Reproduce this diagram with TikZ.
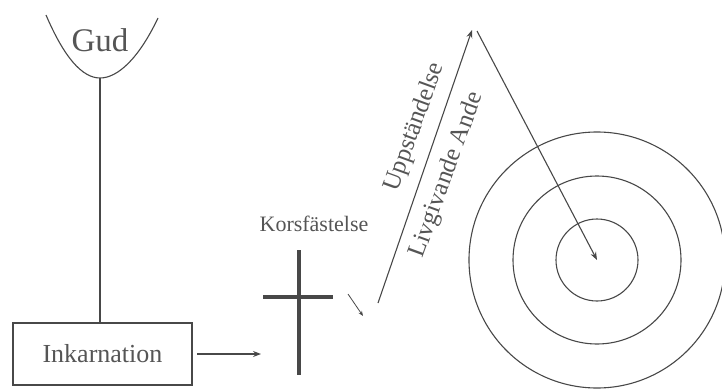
\documentclass[tikz,border=0pt]{standalone}
\usepackage{fontspec}
\setmainfont{Liberation Serif}
\usetikzlibrary{arrows.meta}
\definecolor{ink}{HTML}{484848}
\definecolor{txt}{HTML}{555555}
\begin{document}
\begin{tikzpicture}[x=1pt,y=-1pt,
  line/.style={draw=ink,line width=1.1pt},
  arr/.style={line,-{Stealth[length=8pt,width=6pt]}},
  lbl/.style={text=txt,inner sep=0pt}]
\useasboundingbox (0,0) rectangle (722,388);
% God cup
\coordinate (cupL) at (46,15);
\coordinate (cupR) at (158,18);
\coordinate (cupB) at (100,78);
\draw[line] (cupL) .. controls (64,57) and (82,78) .. (cupB) .. controls (118,78) and (139,58) .. (cupR);
\node[lbl,font=\fontsize{33}{36}\selectfont] (gud) at (100,40) {Gud};
% incarnation box
\node[line,minimum width=179pt,minimum height=62pt,inner sep=0pt,font=\fontsize{26}{30}\selectfont,text=txt] (ink) at (102.5,354) {Inkarnation};
\draw[line] (cupB) -- (ink.north -| cupB);
\coordinate (a1s) at (197,354);
\coordinate (a1e) at (261,354);
\draw[arr] (a1s) -- (a1e);
% cross
\coordinate (cT) at (299,250);
\coordinate (cB) at (299,375);
\coordinate (cL) at (263,297);
\coordinate (cR) at (333,297);
\draw[draw=ink,line width=3.2pt] (cT) -- (cB);
\draw[draw=ink,line width=3.2pt] (cL) -- (cR);
\node[lbl,font=\fontsize{22}{26}\selectfont] (kors) at (314,224) {Korsfästelse};
% small arrow
\coordinate (s1) at (348,294);
\coordinate (s2) at (363,316);
\draw[line,line width=0.8pt,-{Stealth[length=5pt,width=4pt]}] (s1) -- (s2);
% rising arrow
\coordinate (r1) at (378,303);
\coordinate (top) at (472,30);
\draw[arr] (r1) -- (top);
% circles
\coordinate (cen) at (597,260);
\node[line,circle,minimum size=256pt,inner sep=0pt] (c3) at (cen) {};
\node[line,circle,minimum size=168pt,inner sep=0pt] (c2) at (cen) {};
\node[line,circle,minimum size=82pt,inner sep=0pt] (c1) at (cen) {};
\coordinate (d1) at (477,31);
\draw[arr] (d1) -- (cen);
% labels along the rising arrow
\node[lbl,rotate=70,font=\fontsize{25}{28}\selectfont] (upp) at (415,127) {Uppständelse};
\node[lbl,rotate=70,font=\fontsize{25}{28}\selectfont] (liv) at (447,175) {Livgivande Ande};
\end{tikzpicture}
\end{document}
